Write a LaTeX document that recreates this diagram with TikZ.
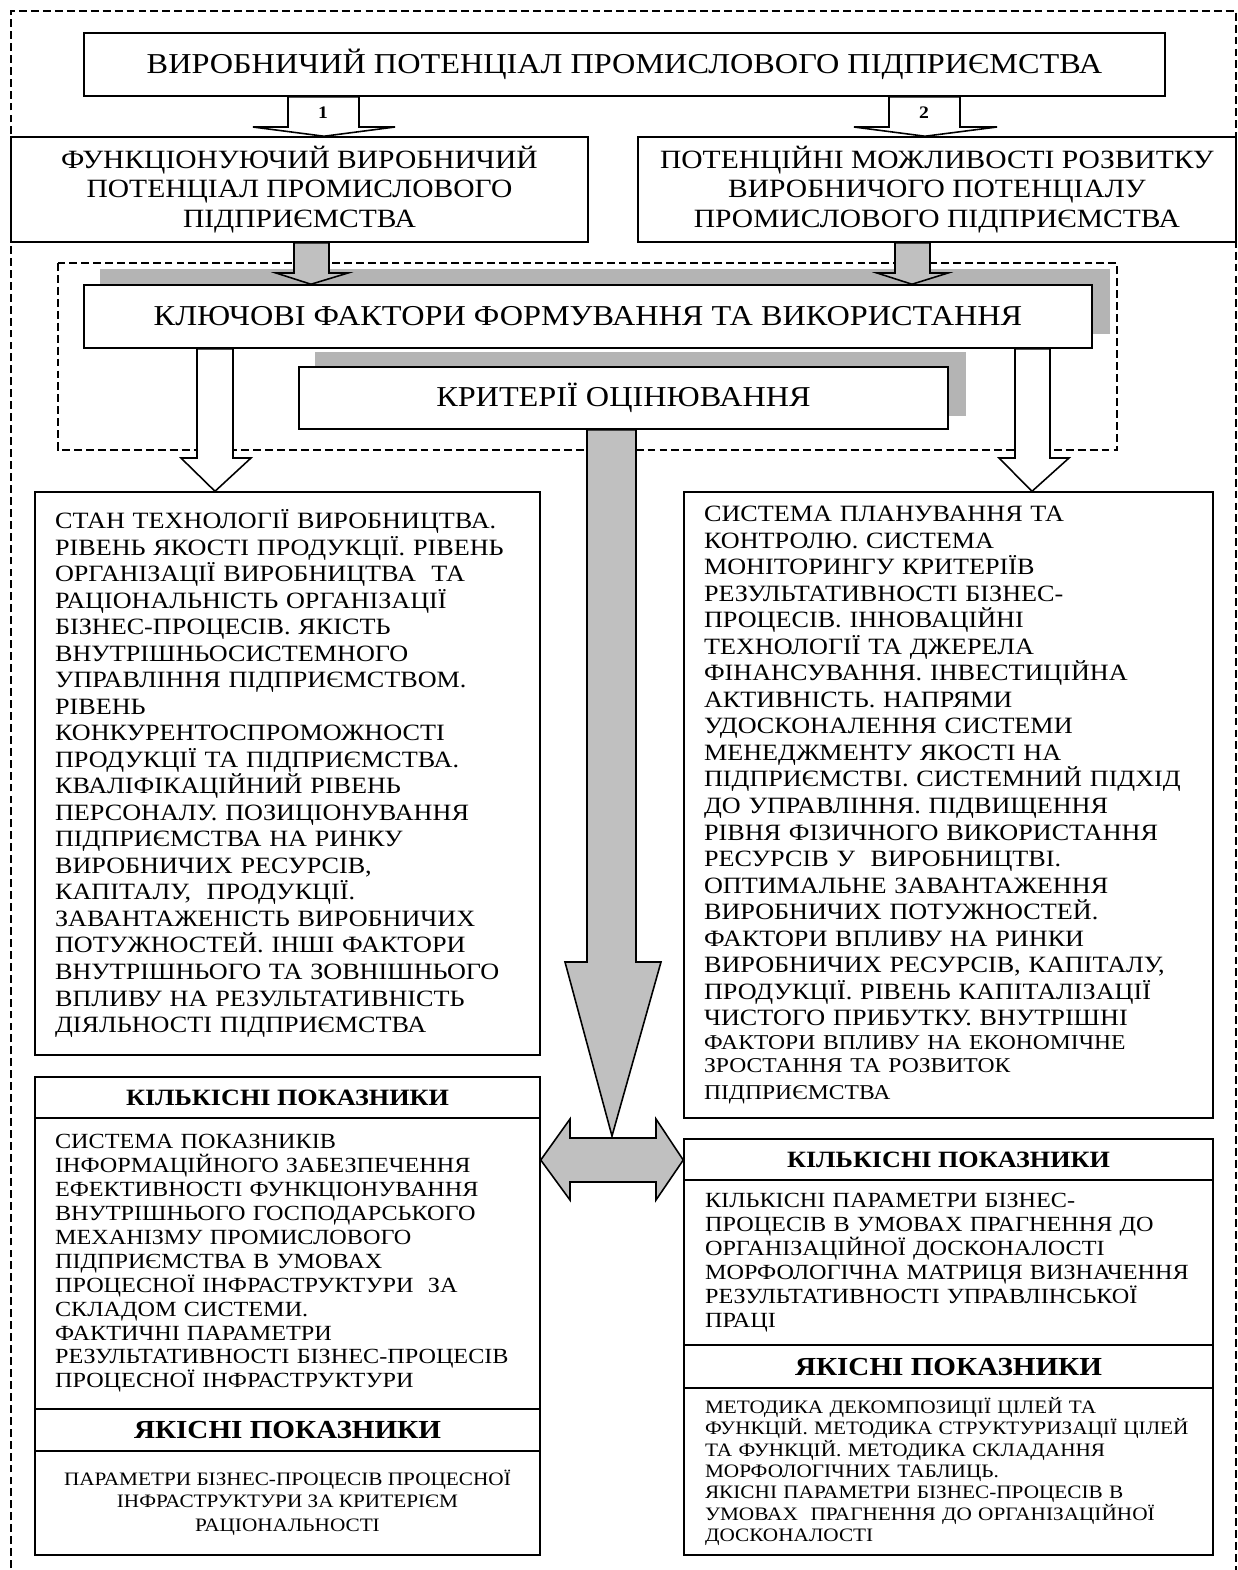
\documentclass[tikz,border=0pt]{standalone}
\definecolor{arrowgray}{RGB}{192,192,192}
\definecolor{shadowgray}{RGB}{180,180,180}
\usepackage{fontspec}
\setmainfont{Liberation Serif}[FakeStretch=1.12]
\usepackage{tikz}
\usetikzlibrary{calc, backgrounds}

\begin{document}
\begin{tikzpicture}[
  x=0.02cm, y=-0.02cm,
  box/.style={rectangle, draw, line width=0.9pt, fill=white, inner sep=0pt, align=center},
  frame/.style={dash pattern=on 4.5pt off 2.3pt, line width=0.7pt},
  openarr/.style={draw, line width=0.9pt, fill=white},
  greyarr/.style={draw, line width=0.9pt, fill=arrowgray},
  shade/.style={fill=shadowgray},
  headtext/.style={font=\fontsize{16.4}{18}\selectfont},
  midtext/.style={font=\fontsize{15}{17}\selectfont},
  bodytext/.style={font=\fontsize{13.3}{15.1}\selectfont, align=left},
  listtext/.style={font=\fontsize{12.3}{13.6}\selectfont, align=left},
  smalltext/.style={font=\fontsize{10.8}{12.2}\selectfont},
  boldhdr/.style={font=\fontsize{13.3}{14}\selectfont\bfseries},
  bighdr/.style={font=\fontsize{14.8}{16}\selectfont\bfseries},
  numlbl/.style={font=\fontsize{10}{12}\selectfont\bfseries, inner sep=0pt}
]
  \useasboundingbox (0,0) rectangle (1238,1570);
  % outer and inner frames
  \draw[frame] (11,1580) -- (11,11) -- (1236,11) -- (1236,1580);
  \draw[frame] (58,263) rectangle (1117,450);

  % upper boxes
  \node[box, headtext, minimum width=21.62cm, minimum height=1.26cm] (top) at (624.5,64.5)
    {ВИРОБНИЧИЙ ПОТЕНЦІАЛ ПРОМИСЛОВОГО ПІДПРИЄМСТВА};
  \node[box, midtext, minimum width=11.54cm, minimum height=2.1cm] (func) at (299.5,189.5)
    {ФУНКЦІОНУЮЧИЙ ВИРОБНИЧИЙ\\ПОТЕНЦІАЛ ПРОМИСЛОВОГО\\ПІДПРИЄМСТВА};
  \node[box, midtext, minimum width=11.96cm, minimum height=2.1cm] (poten) at (937,189.5)
    {ПОТЕНЦІЙНІ МОЖЛИВОСТІ РОЗВИТКУ\\ВИРОБНИЧОГО ПОТЕНЦІАЛУ\\ПРОМИСЛОВОГО ПІДПРИЄМСТВА};
  \node[box, headtext, minimum width=20.16cm, minimum height=1.26cm] (key) at (588,316.5)
    {КЛЮЧОВІ ФАКТОРИ ФОРМУВАННЯ ТА ВИКОРИСТАННЯ};
  \node[box, headtext, minimum width=12.98cm, minimum height=1.24cm] (crit) at (623.5,398)
    {КРИТЕРІЇ ОЦІНЮВАННЯ};
  \begin{pgfonlayer}{background}
    \fill[shade] ($(key.south west)+(17,-15)$) rectangle ($(key.north east)+(17,-15)$);
    \fill[shade] ($(crit.south west)+(17,-14)$) rectangle ($(crit.north east)+(17,-14)$);
  \end{pgfonlayer}

  % factor boxes
  \node[box, bodytext, text width=9.3cm, minimum width=10.1cm, minimum height=11.26cm] (stan) at (287.5,773.5)
    {СТАН ТЕХНОЛОГІЇ ВИРОБНИЦТВА.\\РІВЕНЬ ЯКОСТІ ПРОДУКЦІЇ. РІВЕНЬ\\ОРГАНІЗАЦІЇ ВИРОБНИЦТВА~ ТА\\
     РАЦІОНАЛЬНІСТЬ ОРГАНІЗАЦІЇ\\БІЗНЕС-ПРОЦЕСІВ. ЯКІСТЬ\\ВНУТРІШНЬОСИСТЕМНОГО\\
     УПРАВЛІННЯ ПІДПРИЄМСТВОМ.\\РІВЕНЬ\\КОНКУРЕНТОСПРОМОЖНОСТІ\\ПРОДУКЦІЇ ТА ПІДПРИЄМСТВА.\\
     КВАЛІФІКАЦІЙНИЙ РІВЕНЬ\\ПЕРСОНАЛУ. ПОЗИЦІОНУВАННЯ\\ПІДПРИЄМСТВА НА РИНКУ\\
     ВИРОБНИЧИХ РЕСУРСІВ,\\КАПІТАЛУ,~ ПРОДУКЦІЇ.\\ЗАВАНТАЖЕНІСТЬ ВИРОБНИЧИХ\\
     ПОТУЖНОСТЕЙ. ІНШІ ФАКТОРИ\\ВНУТРІШНЬОГО ТА ЗОВНІШНЬОГО\\ВПЛИВУ НА РЕЗУЛЬТАТИВНІСТЬ\\
     ДІЯЛЬНОСТІ ПІДПРИЄМСТВА};
  \node[box, bodytext, text width=9.78cm, minimum width=10.58cm, minimum height=12.52cm] (sys) at (948.5,805)
    {СИСТЕМА ПЛАНУВАННЯ ТА\\КОНТРОЛЮ. СИСТЕМА\\МОНІТОРИНГУ КРИТЕРІЇВ\\РЕЗУЛЬТАТИВНОСТІ БІЗНЕС-\\
     ПРОЦЕСІВ. ІННОВАЦІЙНІ\\ТЕХНОЛОГІЇ ТА ДЖЕРЕЛА\\ФІНАНСУВАННЯ. ІНВЕСТИЦІЙНА\\
     АКТИВНІСТЬ. НАПРЯМИ\\УДОСКОНАЛЕННЯ СИСТЕМИ\\МЕНЕДЖМЕНТУ ЯКОСТІ НА\\
     ПІДПРИЄМСТВІ. СИСТЕМНИЙ ПІДХІД\\ДО УПРАВЛІННЯ. ПІДВИЩЕННЯ\\РІВНЯ ФІЗИЧНОГО ВИКОРИСТАННЯ\\
     РЕСУРСІВ У~ ВИРОБНИЦТВІ.\\ОПТИМАЛЬНЕ ЗАВАНТАЖЕННЯ\\ВИРОБНИЧИХ ПОТУЖНОСТЕЙ.\\
     ФАКТОРИ ВПЛИВУ НА РИНКИ\\ВИРОБНИЧИХ РЕСУРСІВ, КАПІТАЛУ,\\ПРОДУКЦІЇ. РІВЕНЬ КАПІТАЛІЗАЦІЇ\\
     ЧИСТОГО ПРИБУТКУ. ВНУТРІШНІ\par
     \fontsize{12}{13.4}\selectfont ФАКТОРИ ВПЛИВУ НА ЕКОНОМІЧНЕ\\ЗРОСТАННЯ ТА РОЗВИТОК\\ПІДПРИЄМСТВА};

  % indicator boxes, left
  \node[box, boldhdr, minimum width=10.1cm, minimum height=0.82cm] (lqh) at (287.5,1097.5) {КІЛЬКІСНІ ПОКАЗНИКИ};
  \node[box, listtext, text width=9.3cm, minimum width=10.1cm, minimum height=5.82cm] (lqb) at (287.5,1263.5)
    {СИСТЕМА ПОКАЗНИКІВ\\ІНФОРМАЦІЙНОГО ЗАБЕЗПЕЧЕННЯ\\ЕФЕКТИВНОСТІ ФУНКЦІОНУВАННЯ\\
     ВНУТРІШНЬОГО ГОСПОДАРСЬКОГО\\МЕХАНІЗМУ ПРОМИСЛОВОГО\\ПІДПРИЄМСТВА В УМОВАХ\\
     ПРОЦЕСНОЇ ІНФРАСТРУКТУРИ~ ЗА\\СКЛАДОМ СИСТЕМИ.\\ФАКТИЧНІ ПАРАМЕТРИ\\
     РЕЗУЛЬТАТИВНОСТІ БІЗНЕС-ПРОЦЕСІВ\\ПРОЦЕСНОЇ ІНФРАСТРУКТУРИ};
  \node[box, bighdr, minimum width=10.1cm, minimum height=0.84cm] (lsh) at (287.5,1430) {ЯКІСНІ ПОКАЗНИКИ};
  \node[box, smalltext, minimum width=10.1cm, minimum height=2.08cm] (lsb) at (287.5,1503)
    {ПАРАМЕТРИ БІЗНЕС-ПРОЦЕСІВ ПРОЦЕСНОЇ\\ІНФРАСТРУКТУРИ ЗА КРИТЕРІЄМ\\[1.5pt]РАЦІОНАЛЬНОСТІ};

  % indicator boxes, right
  \node[box, boldhdr, minimum width=10.58cm, minimum height=0.82cm] (rqh) at (948.5,1159.5) {КІЛЬКІСНІ ПОКАЗНИКИ};
  \node[box, listtext, text width=9.74cm, minimum width=10.58cm, minimum height=3.3cm] (rqb) at (948.5,1262.5)
    {КІЛЬКІСНІ ПАРАМЕТРИ БІЗНЕС-\\ПРОЦЕСІВ В УМОВАХ ПРАГНЕННЯ ДО\\ОРГАНІЗАЦІЙНОЇ ДОСКОНАЛОСТІ\\
     МОРФОЛОГІЧНА МАТРИЦЯ ВИЗНАЧЕННЯ\\РЕЗУЛЬТАТИВНОСТІ УПРАВЛІНСЬКОЇ\\ПРАЦІ};
  \node[box, bighdr, minimum width=10.58cm, minimum height=0.86cm] (rsh) at (948.5,1366.5) {ЯКІСНІ ПОКАЗНИКИ};
  \node[box, smalltext, align=left, text width=9.74cm, minimum width=10.58cm, minimum height=3.34cm] (rsb) at (948.5,1471.5)
    {МЕТОДИКА ДЕКОМПОЗИЦІЇ ЦІЛЕЙ ТА\\ФУНКЦІЙ. МЕТОДИКА СТРУКТУРИЗАЦІЇ ЦІЛЕЙ\\ТА ФУНКЦІЙ. МЕТОДИКА СКЛАДАННЯ\\
     МОРФОЛОГІЧНИХ ТАБЛИЦЬ.\\ЯКІСНІ ПАРАМЕТРИ БІЗНЕС-ПРОЦЕСІВ В\\УМОВАХ~ ПРАГНЕННЯ ДО ОРГАНІЗАЦІЙНОЇ\\ДОСКОНАЛОСТІ};

  % block arrows
  \draw[openarr] (288,0 |- top.south) -- (288,127) -- (253,127) -- (324,0 |- func.north)
    -- (395,127) -- (359,127) -- (359,0 |- top.south) -- cycle;
  \draw[openarr] (889,0 |- top.south) -- (889,127) -- (854,127) -- (925,0 |- poten.north)
    -- (997,127) -- (960,127) -- (960,0 |- top.south) -- cycle;
  \node[numlbl] (n1) at (323,113) {1};
  \node[numlbl] (n2) at (924,113) {2};
  \draw[greyarr] (294,0 |- func.south) -- (294,273) -- (276,273) -- (311,0 |- key.north)
    -- (348,273) -- (329,273) -- (329,0 |- func.south) -- cycle;
  \draw[greyarr] (895,0 |- poten.south) -- (895,273) -- (877,273) -- (912,0 |- key.north)
    -- (948,273) -- (930,273) -- (930,0 |- poten.south) -- cycle;
  \draw[openarr] (197,0 |- key.south) -- (197,458) -- (181,458) -- (215,0 |- stan.north)
    -- (251,458) -- (233,458) -- (233,0 |- key.south) -- cycle;
  \draw[openarr] (1015,0 |- key.south) -- (1015,458) -- (999,458) -- (1032,0 |- sys.north)
    -- (1069,458) -- (1050,458) -- (1050,0 |- key.south) -- cycle;
  \draw[greyarr] (587,0 |- crit.south) -- (587,962) -- (565,962) -- (612,1136)
    -- (661,962) -- (636,962) -- (636,0 |- crit.south) -- cycle;
  \draw[greyarr] (lqb.east |- 0,1160) -- (570,1119) -- (570,1138) -- (656,1138) -- (656,1119)
    -- (rqh.west |- 0,1160) -- (656,1200) -- (656,1182) -- (570,1182) -- (570,1200) -- cycle;
\end{tikzpicture}
\end{document}
